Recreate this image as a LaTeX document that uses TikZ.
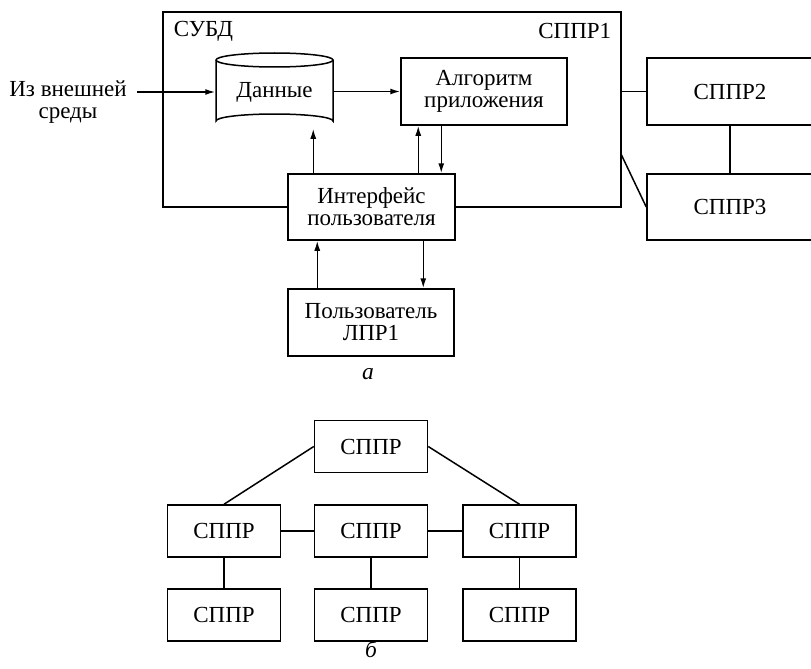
\documentclass[tikz,border=0pt]{standalone}
\usepackage{fontspec}
\setmainfont{Liberation Serif}
\usetikzlibrary{arrows.meta}

\begin{document}
\begin{tikzpicture}[x=1pt,y=-1pt,line width=1.5pt,
  txt/.style={font=\fontsize{23}{22}\selectfont},
  box/.style={draw,fill=white,rectangle,inner sep=0pt,align=center,txt},
  smallbox/.style={box,minimum width=113pt,minimum height=52pt},
  arr/.style={-{Latex[length=10pt,width=6pt]}},
  caption/.style={inner sep=0pt,font=\fontsize{23.5}{22}\selectfont\itshape}]
\useasboundingbox (0,0) rectangle (811,669);

% ---------- part a ----------
% DSS 1 enclosure
\node[draw,rectangle,minimum width=458pt,minimum height=195pt,inner sep=0pt] (sys) at (392,109.5) {};
\node[txt,anchor=west,inner sep=0pt] (dbms) at (173,31) {СУБД};
\node[txt,anchor=east,inner sep=0pt] (sysname) at (612,31) {СППР1};

% data store (cylinder)
\node[minimum width=117pt,minimum height=75pt,inner sep=0pt] (data) at (274.5,90.5) {};
\draw[fill=white] (216,60) -- (216,121) arc[start angle=180,end angle=360,x radius=58.5,y radius=7]
  -- (333,60) arc[start angle=0,end angle=-180,x radius=58.5,y radius=7] -- cycle;
\draw (216,60) arc[start angle=180,end angle=0,x radius=58.5,y radius=7];
\node[txt,inner sep=0pt] (datatext) at (274.5,92) {Данные};

\node[box,minimum width=166pt,minimum height=67pt] (alg) at (484,91.5) {Алгоритм\\приложения};
\node[box,minimum width=167pt,minimum height=66pt] (ui) at (371.5,207) {Интерфейс\\пользователя};
\node[box,minimum width=166pt,minimum height=67pt] (user) at (371,322.5) {Пользователь\\ЛПР1};

\node[box,minimum width=166pt,minimum height=67pt] (s2) at (730,91.5) {СППР2};
\node[box,minimum width=166pt,minimum height=66pt] (s3) at (730,207) {СППР3};

% input from the environment
\node[txt,align=center,inner sep=0pt] (env) at (68,102) {Из внешней\\среды};
\coordinate (envout) at (137,92);
\draw[arr] (envout) -- (data.west |- envout);
\draw[arr] (data.east |- alg.west) -- (alg.west);

% links between user interface, data and algorithm
\draw[arr] ([xshift=26pt]ui.north west) -- ([xshift=26pt]ui.north west |- data.south);
\draw[arr] ([xshift=131pt]ui.north west) -- ([xshift=18pt]alg.south west);
\draw[arr] ([xshift=41pt]alg.south west) -- ([xshift=41pt]alg.south west |- ui.north);
\draw[arr] ([xshift=30pt]user.north west) -- ([xshift=30pt]user.north west |- ui.south);
\draw[arr] ([xshift=136pt]ui.south west) -- ([xshift=136pt]ui.south west |- user.north);

% links to the other DSS
\draw (sys.east |- s2.west) -- (s2.west);
\draw (s2.south) -- (s3.north);
\coordinate (diag) at (621,154);
\draw (diag) -- (s3.west);

\node[caption] (capa) at (368,374) {а};

% ---------- part b ----------
\node[smallbox] (top) at (371,446.5) {СППР};
\node[smallbox] (l) at (224,531) {СППР};
\node[smallbox] (m) at (371,531) {СППР};
\node[smallbox] (r) at (519.5,531) {СППР};
\node[smallbox] (bl) at (224,615) {СППР};
\node[smallbox] (bm) at (371,615) {СППР};
\node[smallbox] (br) at (519.5,615) {СППР};

\draw (top.west) -- (l.north);
\draw (top.east) -- (r.north);
\draw (l.east) -- (m.west);
\draw (m.east) -- (r.west);
\draw (l.south) -- (bl.north);
\draw (m.south) -- (bm.north);
\draw (r.south) -- (br.north);

\node[caption] (capb) at (371,649) {б};
\end{tikzpicture}
\end{document}
